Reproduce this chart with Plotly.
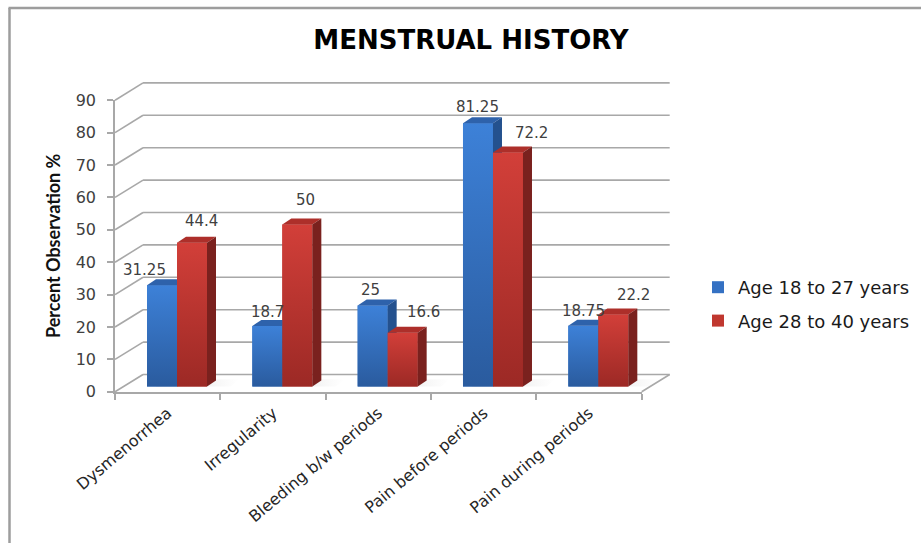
import plotly.graph_objects as go

# ---- data -------------------------------------------------------------
categories = ["Dysmenorrhea", "Irregularity", "Bleeding b/w periods",
              "Pain before periods", "Pain during periods"]
series_names = ["Age 18 to 27 years", "Age 28 to 40 years"]
age_18_27 = [31.25, 18.7, 25, 81.25, 18.75]
age_28_40 = [44.4, 50, 16.6, 72.2, 22.2]
y_ticks = [0, 10, 20, 30, 40, 50, 60, 70, 80, 90]

# ---- geometry of the pseudo-3D frame (pixels) ---------------------------
W, H = 921, 543
PL, PR, PT, PB = 100, 700, 80, 400          # plot area box
CX0, CAT = 177.0, 105.33                    # category 0 centre / category pitch
BASE, UNIT = 386.5, 3.24                    # value 0 in bar plane / px per unit


def ux(px):
    return px / CAT


def uy(px):
    return px / UNIT


def paper_x(px):
    return (px - PL) / (PR - PL)


def paper_y(py):
    return (PB - py) / (PB - PT)


FX, FY = ux(-9.3), uy(-5.3)     # front plane offset
BX, BY = ux(18.7), uy(12.0)     # back wall offset
DX, DY = ux(9.0), uy(6.0)       # bar depth
BAR_W = ux(30.0)

n = len(categories)
x_idx = list(range(n))
x_lo, x_hi = -0.5, n - 0.5

styles = [
    dict(front=("#2a5b9e", "#3d81d8"), solid="#3471c3",
         top="#2e62ab", side="#24518e", offset=-BAR_W,
         label_shift=[(-18, 15), (0, 14), (-2, 16), (0, 16), (0, 15)]),
    dict(front=("#9c2925", "#d23f39"), solid="#c0372f",
         top="#ad2f2a", side="#7a211e", offset=0.0,
         label_shift=[(9, 22), (8, 25), (21, 21), (24, 20), (20, 20)]),
]
series_values = [age_18_27, age_28_40]

fig = go.Figure()

# flat bars (also provide the legend swatches)
for name, vals, st in zip(series_names, series_values, styles):
    fig.add_trace(go.Bar(
        x=x_idx, y=vals, name=name, width=BAR_W, offset=st["offset"],
        marker=dict(color=st["solid"], line=dict(width=0)),
        legendgroup=name, hoverinfo="skip"))

# soft floor shadow behind each pair of bars
for i in x_idx:
    x0 = i - BAR_W + DX
    x1 = i + BAR_W + 2.6 * DX
    fig.add_trace(go.Scatter(
        x=[x0, x1, x1 + DX, x0 + DX, x0], y=[0, 0, DY * 1.2, DY * 1.2, 0],
        mode="lines", fill="toself",
        fillgradient=dict(type="horizontal",
                          colorscale=[[0, "rgba(150,150,150,0.45)"],
                                      [1, "rgba(200,200,200,0.0)"]]),
        line=dict(width=0, color="rgba(0,0,0,0)"),
        showlegend=False, hoverinfo="skip"))

# shaded faces: front (gradient), top and side of each bar
for vals, st in zip(series_values, styles):
    for i, v in enumerate(vals):
        x0 = i + st["offset"]
        x1 = x0 + BAR_W
        fig.add_trace(go.Scatter(
            x=[x0, x1, x1, x0, x0], y=[0, 0, v, v, 0], mode="lines",
            fill="toself", line=dict(width=0, color="rgba(0,0,0,0)"),
            fillgradient=dict(type="vertical",
                              colorscale=[[0, st["front"][0]], [1, st["front"][1]]]),
            showlegend=False, hoverinfo="skip"))
        fig.add_trace(go.Scatter(
            x=[x0, x1, x1 + DX, x0 + DX, x0], y=[v, v, v + DY, v + DY, v],
            mode="lines", fill="toself", fillcolor=st["top"],
            line=dict(width=0, color="rgba(0,0,0,0)"),
            showlegend=False, hoverinfo="skip"))
        fig.add_trace(go.Scatter(
            x=[x1, x1 + DX, x1 + DX, x1, x1], y=[0, DY, v + DY, v, 0],
            mode="lines", fill="toself", fillcolor=st["side"],
            line=dict(width=0, color="rgba(0,0,0,0)"),
            showlegend=False, hoverinfo="skip"))

# invisible carrier for the front axes
fig.add_trace(go.Scatter(
    x=x_idx, y=age_18_27, xaxis="x2", yaxis="y2", mode="markers",
    marker=dict(opacity=0), showlegend=False, hoverinfo="skip"))

GRID = "#a8a8a8"
shapes = []
for v in y_ticks:
    shapes.append(dict(type="line", xref="x", yref="y", layer="below",
                       x0=x_lo + BX, x1=x_hi + BX, y0=v + BY, y1=v + BY,
                       line=dict(color=GRID, width=1.6)))
    shapes.append(dict(type="line", xref="x", yref="y", layer="below",
                       x0=x_lo + FX, x1=x_lo + BX, y0=v + FY, y1=v + BY,
                       line=dict(color=GRID, width=1.6)))
shapes.append(dict(type="line", xref="x", yref="y", layer="below",
                   x0=x_hi + FX, x1=x_hi + BX, y0=FY, y1=BY,
                   line=dict(color=GRID, width=1.6)))

# outer frame (left and top edges)
shapes.append(dict(type="line", xref="paper", yref="paper",
                   x0=paper_x(9.5), x1=paper_x(9.5), y0=paper_y(8), y1=paper_y(545),
                   line=dict(color="#9d9d9d", width=2.5)))
shapes.append(dict(type="line", xref="paper", yref="paper",
                   x0=paper_x(8.5), x1=paper_x(925), y0=paper_y(8), y1=paper_y(8),
                   line=dict(color="#9d9d9d", width=2.5)))

annotations = []
for vals, st in zip(series_values, styles):
    for i, v in enumerate(vals):
        xs, ys = st["label_shift"][i]
        annotations.append(dict(
            x=i + st["offset"] + BAR_W / 2, y=v, xref="x", yref="y",
            text=f"{v:g}", showarrow=False, xshift=xs, yshift=ys,
            xanchor="center", yanchor="middle",
            font=dict(family="DejaVu Sans", size=15, color="#404040")))

annotations.append(dict(
    text="Percent Observation %", textangle=-90, showarrow=False,
    xref="paper", yref="paper", x=paper_x(53), y=paper_y(246),
    xanchor="center", yanchor="middle",
    font=dict(family="Lato", size=18, color="#111111", weight="bold")))

front_left = CX0 + x_lo * CAT - 9.3
front_right = CX0 + x_hi * CAT - 9.3
front_zero = BASE + 5.3
front_top = front_zero - y_ticks[-1] * UNIT

fig.update_layout(
    width=W, height=H,
    margin=dict(l=PL, r=W - PR, t=PT, b=H - PB, autoexpand=False),
    paper_bgcolor="white", plot_bgcolor="rgba(0,0,0,0)",
    barmode="overlay",
    title=dict(text="MENSTRUAL HISTORY", xref="container", yref="container",
               x=471 / W, y=1 - 40 / H, xanchor="center", yanchor="middle",
               font=dict(family="DejaVu Sans", size=26, color="#000000",
                         weight="bold")),
    xaxis=dict(range=[(PL - CX0) / CAT, (PR - CX0) / CAT], visible=False,
               fixedrange=True, automargin=False),
    yaxis=dict(range=[(BASE - PB) / UNIT, (BASE - PT) / UNIT], visible=False,
               fixedrange=True, automargin=False),
    xaxis2=dict(domain=[paper_x(front_left), paper_x(front_right)],
                range=[x_lo, x_hi], anchor="y2", automargin=False,
                tickmode="array", tickvals=x_idx, ticktext=categories,
                tickangle=-40, ticks="", ticklabelstandoff=4,
                showline=True, linecolor=GRID, linewidth=1.6,
                showgrid=False, zeroline=False, fixedrange=True,
                tickfont=dict(family="DejaVu Sans", size=16, color="#262626"),
                minor=dict(tickmode="array",
                           tickvals=[k - 0.5 for k in range(n + 1)],
                           ticks="outside", ticklen=6, tickwidth=1.6,
                           tickcolor=GRID, showgrid=False)),
    yaxis2=dict(domain=[paper_y(front_zero), paper_y(front_top)],
                range=[y_ticks[0], y_ticks[-1]], anchor="x2", automargin=False,
                tickmode="array", tickvals=y_ticks, fixedrange=True,
                ticks="outside", ticklen=6, tickwidth=1.6, tickcolor=GRID,
                ticklabelstandoff=8,
                showline=True, linecolor=GRID, linewidth=1.6,
                showgrid=False, zeroline=False,
                tickfont=dict(family="DejaVu Sans", size=16, color="#404040")),
    legend=dict(x=paper_x(698), y=paper_y(269), xanchor="left", yanchor="top",
                bgcolor="rgba(0,0,0,0)", traceorder="grouped",
                tracegroupgap=7,
                font=dict(family="DejaVu Sans", size=18, color="#1a1a1a")),
    shapes=shapes,
    annotations=annotations,
)

fig.write_html("out.html")
